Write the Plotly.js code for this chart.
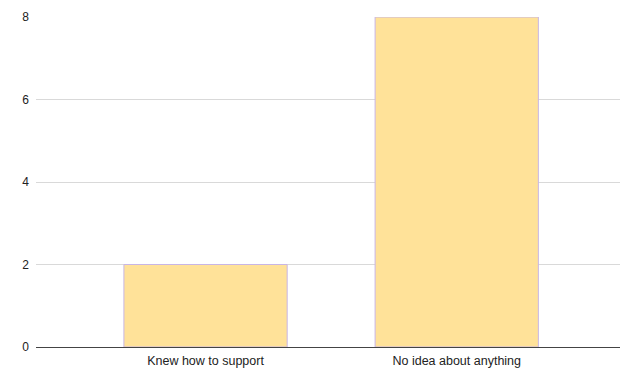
<!DOCTYPE html>
<html><head><meta charset="utf-8">
<script src="https://cdn.plot.ly/plotly-3.0.1.min.js"></script>
<style>html,body{margin:0;padding:0;background:#fff}#chart{width:621px;height:371px}</style>
</head><body><div id="chart"></div>
<script>
var categories = ["Knew how to support", "No idea about anything"];
var values = [2, 8];
var yTicks = [0, 2, 4, 6, 8];

var trace = {
  type: 'bar', x: categories, y: values,
  width: 0.65,
  marker: {color: '#ffe299', line: {color: '#c8b6e6', width: 1}},
  hoverinfo: 'x+y'
};
var layout = {
  width: 621, height: 371,
  margin: {l: 36, r: 1, t: 17, b: 24},
  paper_bgcolor: '#fff', plot_bgcolor: '#fff',
  font: {family: 'Liberation Sans, Arial, sans-serif', size: 12, color: '#222'},
  showlegend: false,
  xaxis: {type: 'category', range: [-0.675, 1.65], showgrid: false, ticks: '', showline: false,
          ticklabelstandoff: 4, tickfont: {size: 12.5, color: '#222'}},
  yaxis: {range: [0, 8], tickvals: yTicks, ticktext: yTicks.map(String), showgrid: true,
          gridcolor: '#d9d9d9', gridwidth: 1, zeroline: true, zerolinecolor: '#444', zerolinewidth: 1,
          ticks: '', ticklabelstandoff: 6, tickfont: {size: 12, color: '#222'}, showline: false}
};
Plotly.newPlot('chart', [trace], layout, {displayModeBar: false, staticPlot: true});
</script></body></html>
